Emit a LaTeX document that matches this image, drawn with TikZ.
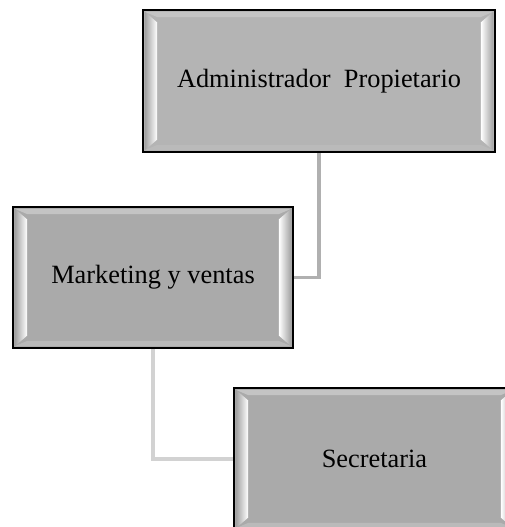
\documentclass[tikz,border=0pt]{standalone}
\usepackage{fontspec}
\setmainfont{Liberation Serif}
\usepackage{tikz}
\usetikzlibrary{calc,backgrounds}
\usepackage{xcolor}
\definecolor{boxlight}{RGB}{180,180,180}
\definecolor{boxgray}{RGB}{170,170,170}
\definecolor{bevelgray}{RGB}{160,160,160}
\definecolor{beveltop}{RGB}{196,196,196}
\definecolor{bevelbot}{RGB}{186,186,186}
\definecolor{linkdark}{RGB}{176,176,176}
\definecolor{linklight}{RGB}{210,210,210}
\tikzset{
  bevel/.style  = {path picture={
      \path (path picture bounding box.south west) coordinate (bsw)
            (path picture bounding box.north east) coordinate (bne);
      \fill[beveltop] let \p1=(bsw), \p2=(bne) in
        (\x1+1pt,\y2-1pt) -- (\x2-1pt,\y2-1pt) -- (\x2-8pt,\y2-4pt) -- (\x1+8pt,\y2-4pt) -- cycle;
      \fill[bevelbot] let \p1=(bsw), \p2=(bne) in
        (\x1+1pt,\y1+1pt) -- (\x2-1pt,\y1+1pt) -- (\x2-8pt,\y1+4pt) -- (\x1+8pt,\y1+4pt) -- cycle;
      \fill[left color=bevelgray, middle color=white, right color=white] let \p1=(bsw), \p2=(bne) in
        (\x1+1pt,\y2-1pt) -- (\x1+8pt,\y2-7pt) -- (\x1+8pt,\y1+7pt) -- (\x1+1pt,\y1+1pt) -- cycle;
      \fill[left color=white, middle color=white, right color=bevelgray] let \p1=(bsw), \p2=(bne) in
        (\x2-1pt,\y2-1pt) -- (\x2-8pt,\y2-7pt) -- (\x2-8pt,\y1+7pt) -- (\x2-1pt,\y1+1pt) -- cycle;
    }},
  orgbox/.style = {draw=black, line width=1.1pt, fill=boxgray, bevel,
                   rectangle, align=center, inner sep=0pt,
                   font=\fontsize{15}{18}\selectfont},
  link/.style   = {line width=2.2pt},
}

\begin{document}
\begin{tikzpicture}[x=0.02cm,y=0.02cm]
\useasboundingbox (0,0) rectangle (504,527);
% ---------- boxes ----------
\node[orgbox, fill=boxlight, minimum width=7.04cm, minimum height=2.84cm]
  (admin) at (319,446) {Administrador\ \ Propietario};
\node[orgbox, minimum width=5.6cm, minimum height=2.82cm]
  (mkt) at (153,249.5) {Marketing y ventas};
\node[orgbox, minimum width=5.62cm, minimum height=2.84cm]
  (secr) at (374.5,68) {Secretaria};
% ---------- links ----------
\begin{scope}[on background layer]
\draw[link, linkdark] (admin.south) |- (mkt.east);
\draw[link, linklight] (mkt.south) |- (secr.west);
\end{scope}
\end{tikzpicture}
\end{document}
